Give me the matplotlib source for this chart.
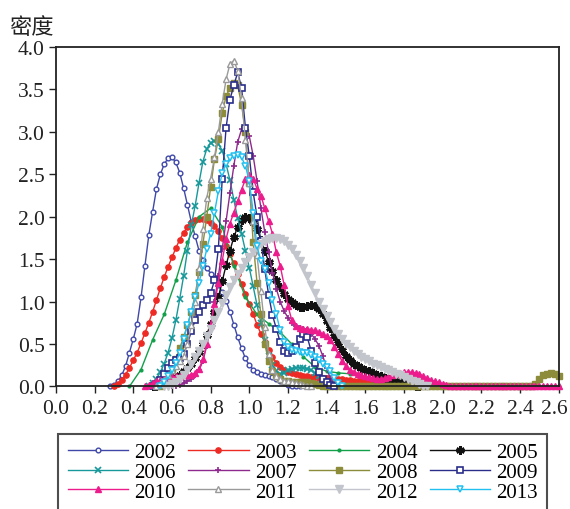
import numpy as np
import matplotlib
matplotlib.use("Agg")
import matplotlib.pyplot as plt
from matplotlib.transforms import ScaledTranslation

plt.rcParams['font.family'] = ['Liberation Serif', 'DejaVu Serif']

# kernel density curves, grid step 0.02 (2004: 0.06)
years = ["2002", "2003", "2004", "2005", "2006", "2007",
         "2008", "2009", "2010", "2011", "2012", "2013"]

d2002 = [0.00, 0.02, 0.06, 0.13, 0.24, 0.40, 0.56, 0.74, 1.05, 1.42,
         1.78, 2.06, 2.33, 2.50, 2.62, 2.69, 2.70, 2.64, 2.52, 2.34,
         2.14, 1.94, 1.77, 1.60, 1.49, 1.40, 1.33, 1.27, 1.20, 1.11,
         1.01, 0.88, 0.73, 0.58, 0.45, 0.33, 0.25, 0.20, 0.17, 0.15,
         0.13, 0.12, 0.11, 0.09, 0.06, 0.04, 0.02, 0.01, 0.00, 0.01,
         0.03, 0.05, 0.07, 0.09, 0.10, 0.10, 0.10, 0.10, 0.09, 0.07,
         0.05, 0.03, 0.02, 0.01, 0.00]
d2003 = [0.00, 0.03, 0.08, 0.14, 0.22, 0.31, 0.40, 0.51, 0.63, 0.75,
         0.88, 1.02, 1.16, 1.29, 1.41, 1.52, 1.63, 1.73, 1.81, 1.88,
         1.93, 1.96, 1.97, 1.97, 1.96, 1.93, 1.89, 1.83, 1.75, 1.66,
         1.56, 1.45, 1.33, 1.21, 1.09, 0.97, 0.85, 0.73, 0.62, 0.52,
         0.43, 0.35, 0.28, 0.23, 0.19, 0.17, 0.155, 0.145, 0.135, 0.125,
         0.12, 0.115, 0.11, 0.105, 0.10, 0.10, 0.095, 0.09, 0.09, 0.085,
         0.08, 0.075, 0.07, 0.065, 0.06, 0.055, 0.05, 0.045, 0.04, 0.03,
         0.02, 0.01, 0.00]
d2004 = [0.00, 0.20, 0.55, 0.85, 1.25, 1.70, 2.00, 2.10, 1.88, 1.42,
         1.05, 0.85, 0.74, 0.64, 0.50, 0.35, 0.23, 0.18, 0.16, 0.15,
         0.12, 0.08, 0.04, 0.01, 0.00, 0.00, 0.00, 0.00, 0.00, 0.00,
         0.00, 0.00, 0.00, 0.00, 0.00, 0.00, 0.00, 0.00]
d2005 = [0.00, 0.01, 0.02, 0.04, 0.06, 0.08, 0.11, 0.14, 0.18, 0.22,
         0.27, 0.33, 0.41, 0.50, 0.61, 0.74, 0.88, 1.05, 1.24, 1.43,
         1.60, 1.76, 1.88, 1.96, 2.00, 1.99, 1.94, 1.85, 1.73, 1.60,
         1.47, 1.36, 1.26, 1.17, 1.09, 1.03, 0.99, 0.96, 0.94, 0.94,
         0.95, 0.96, 0.95, 0.91, 0.85, 0.77, 0.69, 0.60, 0.51, 0.43,
         0.36, 0.31, 0.27, 0.24, 0.22, 0.20, 0.18, 0.16, 0.14, 0.12,
         0.10, 0.09, 0.08, 0.07, 0.06, 0.05, 0.04, 0.02, 0.01, 0.00]
d2006 = [0.00, 0.04, 0.09, 0.17, 0.27, 0.40, 0.57, 0.78, 1.03, 1.30,
         1.60, 1.90, 2.13, 2.40, 2.65, 2.80, 2.87, 2.89, 2.86, 2.78,
         2.62, 2.43, 2.20, 1.98, 1.80, 1.60, 1.40, 1.18, 0.96, 0.75,
         0.55, 0.36, 0.25, 0.18, 0.15, 0.16, 0.19, 0.21, 0.22, 0.22,
         0.22, 0.21, 0.19, 0.16, 0.12, 0.08, 0.05, 0.02, 0.00]
d2007 = [0.00, 0.01, 0.02, 0.04, 0.06, 0.09, 0.13, 0.19, 0.30, 0.48,
         0.72, 1.00, 1.30, 1.62, 1.95, 2.28, 2.60, 2.88, 3.03, 3.05,
         2.95, 2.72, 2.42, 2.10, 1.82, 1.58, 1.34, 1.15, 1.00, 0.89,
         0.81, 0.75, 0.71, 0.69, 0.68, 0.66, 0.62, 0.56, 0.48, 0.36,
         0.22, 0.09, 0.00]
d2008 = ([0.00, 0.05, 0.12, 0.20, 0.32, 0.45, 0.58, 0.72, 0.88, 1.08,
          1.35, 1.68, 2.00, 2.35, 2.68, 2.92, 3.22, 3.42, 3.52, 3.58,
          3.55, 3.32, 3.00, 2.40, 1.70, 1.22, 0.85, 0.50, 0.30, 0.18,
          0.12, 0.09, 0.07, 0.06, 0.05, 0.05, 0.05, 0.05, 0.05, 0.04,
          0.03, 0.02, 0.01, 0.00]
         + [0.00] * 53
         + [0.03, 0.09, 0.13, 0.15, 0.16, 0.15, 0.12])
d2009 = [0.00, 0.03, 0.08, 0.15, 0.22, 0.28, 0.31, 0.33, 0.38, 0.50,
         0.65, 0.78, 0.88, 0.96, 1.02, 1.10, 1.25, 1.62, 2.45, 3.05,
         3.38, 3.55, 3.70, 3.52, 3.05, 2.72, 2.29, 2.00, 1.72, 1.38,
         1.08, 0.84, 0.68, 0.52, 0.42, 0.40, 0.42, 0.47, 0.56, 0.62,
         0.58, 0.42, 0.28, 0.17, 0.09, 0.05, 0.02, 0.00]
d2010 = ([0.00, 0.02, 0.04, 0.06, 0.08, 0.09, 0.10, 0.11, 0.12, 0.12,
          0.13, 0.13, 0.14, 0.16, 0.21, 0.32, 0.50, 0.72, 0.97, 1.22,
          1.48, 1.74, 1.92, 2.05, 2.18, 2.32, 2.44, 2.49, 2.45, 2.33,
          2.25, 2.10, 1.95, 1.80, 1.58, 1.42, 1.20, 0.95, 0.78, 0.71,
          0.69, 0.68, 0.68, 0.67, 0.66, 0.64, 0.62, 0.59, 0.55, 0.47,
          0.38, 0.30, 0.24, 0.20, 0.17, 0.15, 0.13, 0.12, 0.11, 0.10,
          0.09, 0.09, 0.10, 0.11, 0.13, 0.15, 0.16, 0.17, 0.17, 0.17,
          0.16, 0.15, 0.12, 0.10, 0.08, 0.06, 0.05, 0.03, 0.02, 0.01]
         + [0.00] * 28)
d2011 = [0.00, 0.03, 0.08, 0.14, 0.19, 0.24, 0.30, 0.36, 0.50, 0.72,
         1.00, 1.40, 1.85, 2.22, 2.45, 2.70, 3.00, 3.33, 3.62, 3.80,
         3.84, 3.72, 3.40, 2.90, 2.40, 1.95, 1.55, 1.12, 0.70, 0.38,
         0.20, 0.12, 0.09, 0.07, 0.06, 0.05, 0.04, 0.03, 0.02, 0.01,
         0.00]
d2012 = [0.00, 0.01, 0.03, 0.05, 0.09, 0.14, 0.20, 0.27, 0.35, 0.42,
         0.50, 0.59, 0.68, 0.78, 0.88, 0.98, 1.08, 1.17, 1.25, 1.33,
         1.40, 1.47, 1.53, 1.59, 1.64, 1.68, 1.72, 1.74, 1.75, 1.75,
         1.74, 1.71, 1.67, 1.62, 1.55, 1.48, 1.40, 1.30, 1.20, 1.10,
         1.00, 0.91, 0.83, 0.76, 0.68, 0.62, 0.56, 0.50, 0.46, 0.42,
         0.38, 0.35, 0.32, 0.30, 0.27, 0.25, 0.23, 0.21, 0.19, 0.17,
         0.15, 0.13, 0.11, 0.09, 0.07, 0.05, 0.03, 0.01, 0.00]
d2013 = [0.00, 0.05, 0.12, 0.20, 0.28, 0.40, 0.56, 0.72, 0.88, 1.05,
         1.22, 1.42, 1.62, 1.80, 2.05, 2.30, 2.52, 2.62, 2.69, 2.72,
         2.73, 2.70, 2.60, 2.42, 2.05, 1.65, 1.48, 1.38, 1.22, 1.02,
         0.85, 0.66, 0.53, 0.46, 0.43, 0.42, 0.41, 0.40, 0.39, 0.37,
         0.35, 0.31, 0.27, 0.23, 0.18, 0.10, 0.04, 0.00]

series = [d2002, d2003, d2004, d2005, d2006, d2007,
          d2008, d2009, d2010, d2011, d2012, d2013]
starts = [0.28, 0.30, 0.38, 0.50, 0.48, 0.60, 0.54, 0.50, 0.46, 0.52, 0.56, 0.54]
steps = [0.02, 0.02, 0.06, 0.02, 0.02, 0.02, 0.02, 0.02, 0.02, 0.02, 0.02, 0.02]

# color, marker, marker size, edge width, filled
styles = [
    ("#3f48a8", "o", 3.4, 1.0, False),
    ("#ee2a24", "o", 3.8, 1.0, True),
    ("#12a04a", "o", 2.0, 1.0, True),
    ("#111111", (6, 2, 0), 6.0, 1.8, True),
    ("#17989a", "x", 3.8, 1.2, True),
    ("#8e2a8e", "+", 5.0, 1.2, True),
    ("#8c8c3a", "s", 5.0, 1.0, True),
    ("#2a2e8a", "s", 5.0, 1.2, False),
    ("#ec1c8c", "^", 4.6, 1.0, True),
    ("#9a9a9a", "^", 4.4, 1.0, False),
    ("#c3c5cc", "v", 5.2, 1.0, True),
    ("#20c0f0", "v", 4.6, 1.1, False),
]

fig = plt.figure(figsize=(5.7, 5.1), dpi=100)
ax = fig.add_axes([0.0982, 0.2402, 0.8818, 0.6657])

handles = []
for name, vals, x0, st, (col, mk, ms, mew, filled) in zip(years, series, starts, steps, styles):
    x = np.round(x0 + st * np.arange(len(vals)), 3)
    h, = ax.plot(x, vals, color=col, lw=1.0, marker=mk, markersize=ms,
                 markeredgewidth=mew, markerfacecolor=col if filled else "white",
                 markeredgecolor=col, label=name, clip_on=False)
    handles.append(h)

ax.set_xlim(0, 2.6)
ax.set_ylim(0, 4.0)
ax.set_xticks(np.arange(0, 2.61, 0.2))
ax.set_xticklabels(["%.1f" % v for v in np.arange(0, 2.61, 0.2)])
ax.set_yticks(np.arange(0, 4.01, 0.5))
ax.set_yticklabels(["%.1f" % v for v in np.arange(0, 4.01, 0.5)])
ax.tick_params(direction="out", length=5, width=1.0, labelsize=15.5, colors="#222222")
ax.tick_params(axis="x", pad=4)
ax.tick_params(axis="y", pad=3)
for s in ax.spines.values():
    s.set_linewidth(1.3)
    s.set_color("#222222")

# nudge the last x label in so it stays inside the picture
last = ax.get_xticklabels()[-1]
last.set_transform(last.get_transform() + ScaledTranslation(-4 / 100, 0, fig.dpi_scale_trans))

fig.text(0.016, 0.947, "密度", fontsize=16, va="center", ha="left",
         family=["Noto Sans CJK SC", "DejaVu Sans"], color="#222222")

# legend filled column-wise, so reorder to read row by row
order = [0, 4, 8, 1, 5, 9, 2, 6, 10, 3, 7, 11]
leg = fig.legend([handles[i] for i in order], [years[i] for i in order],
                 loc="upper left", bbox_to_anchor=(0.102, 0.148), ncol=4,
                 fontsize=15, frameon=True, fancybox=False, handlelength=2.9,
                 handletextpad=0.3, columnspacing=0.6, labelspacing=0.0,
                 borderpad=0.45, borderaxespad=0.0)
leg.get_frame().set_edgecolor("#222222")
leg.get_frame().set_linewidth(1.5)

fig.savefig("out.png", dpi=100)
